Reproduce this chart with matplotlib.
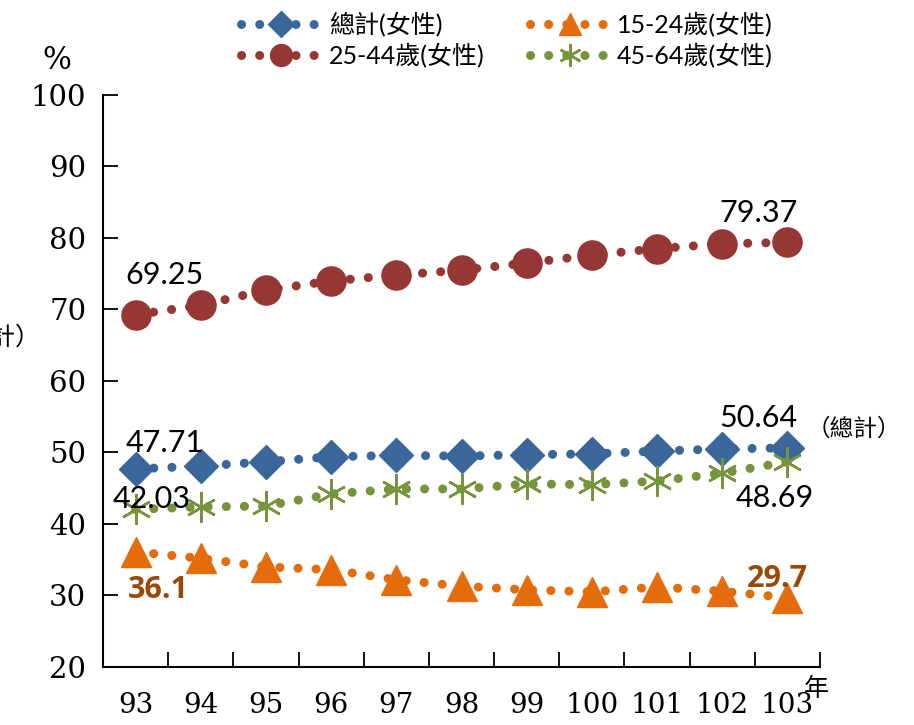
import numpy as np
import matplotlib
matplotlib.use("Agg")
import matplotlib.pyplot as plt

years = ["93", "94", "95", "96", "97", "98", "99", "100", "101", "102", "103"]
total = [47.71, 48.1, 48.7, 49.4, 49.6, 49.5, 49.7, 49.8, 50.2, 50.5, 50.64]
age15_24 = [36.1, 35.2, 34.0, 33.6, 32.2, 31.3, 30.8, 30.5, 31.2, 30.6, 29.7]
age25_44 = [69.25, 70.6, 72.7, 74.0, 74.8, 75.5, 76.5, 77.6, 78.5, 79.2, 79.37]
age45_64 = [42.03, 42.4, 42.5, 44.2, 44.9, 44.9, 45.6, 45.5, 46.0, 47.1, 48.69]
yticks = [20, 30, 40, 50, 60, 70, 80, 90, 100]

series_names = ["總計(女性)", "15-24歲(女性)", "25-44歲(女性)", "45-64歲(女性)"]
colors = ["#3A6699", "#E46C0A", "#953735", "#77933C"]

serif = "DejaVu Serif"
sans = ["Lato", "Noto Sans CJK TC", "DejaVu Sans"]
cjk = ["Noto Sans CJK TC", "DejaVu Sans"]
plt.rcParams['font.family'] = sans

fig = plt.figure(figsize=(9.14, 7.25), dpi=100)
ax = fig.add_axes([0.1127, 0.08, 0.7845, 0.789])

x = np.arange(len(years))
dot = (0, (0.01, 2.0))
common = dict(linestyle=dot, linewidth=6.5, dash_capstyle='round', clip_on=False)

l_total, = ax.plot(x, total, color=colors[0], marker='D', markersize=17, **common)
l_15, = ax.plot(x, age15_24, color=colors[1], marker='^', markersize=21, **common)
l_25, = ax.plot(x, age25_44, color=colors[2], marker='o', markersize=21, **common)
l_45, = ax.plot(x, age45_64, color=colors[3], marker=(6, 2, 0), markersize=22,
                markeredgewidth=1.8, markeredgecolor=colors[3], **common)

ax.set_xlim(-0.5, len(years) - 0.5)
ax.set_ylim(20, 100)
ax.set_yticks(yticks)
ax.set_yticklabels([str(v) for v in yticks], family=serif, fontsize=21)
ax.set_xticks(x)
ax.set_xticklabels(years, family=serif, fontsize=20)
ax.set_xticks(np.arange(-0.5, len(years), 1), minor=True)
ax.tick_params(axis='x', which='major', length=0, pad=18)
ax.tick_params(axis='x', which='minor', direction='in', length=11, width=1.3)
ax.tick_params(axis='y', direction='in', length=11, width=1.3, pad=12)
for s in ["top", "right"]:
    ax.spines[s].set_visible(False)
for s in ["left", "bottom"]:
    ax.spines[s].set_linewidth(1.5)

# data labels
fs = 22
ax.text(x[0] + 0.45, age25_44[0] + 4.3, "69.25", ha='center', fontsize=fs)
ax.text(x[10] - 0.45, age25_44[10] + 2.8, "79.37", ha='center', fontsize=fs)
ax.text(x[0] + 0.45, total[0] + 2.3, "47.71", ha='center', fontsize=fs)
ax.text(x[0] - 0.35, 42.2, "42.03", ha='left', fontsize=fs)
ax.text(x[10] - 0.45, total[10] + 2.9, "50.64", ha='center', fontsize=fs)
ax.text(x[10] + 0.3, total[10] + 1.7, "（總計）", ha='left', fontsize=17, family=cjk)
ax.text(x[10] - 0.2, age45_64[10] - 6.3, "48.69", ha='center', fontsize=fs)
ax.text(x[0] + 0.35, age15_24[0] - 6.5, "36.1", ha='center', fontsize=fs,
        fontweight='bold', color="#984807", family="Open Sans")
ax.text(x[10] - 0.15, age15_24[10] + 1.5, "29.7", ha='center', fontsize=fs,
        fontweight='bold', color="#984807", family="Open Sans")

fig.text(0.062, 0.917, "%", ha='center', va='center', fontsize=22, family=serif)
fig.text(0.893, 0.050, "年", ha='center', va='center', fontsize=18, family=cjk)
fig.text(-0.065, 0.535, "（總計）", ha='left', va='center', fontsize=18, family=cjk)

fig.legend([l_total, l_25, l_15, l_45],
           [series_names[0], series_names[2], series_names[1], series_names[3]],
           ncol=2, loc='upper center', bbox_to_anchor=(0.555, 1.015), frameon=False,
           prop={'family': sans, 'size': 18}, handlelength=3.2, columnspacing=1.8,
           labelspacing=0.25, handletextpad=0.3, markerscale=0.75)

fig.savefig("out.png", dpi=100)
